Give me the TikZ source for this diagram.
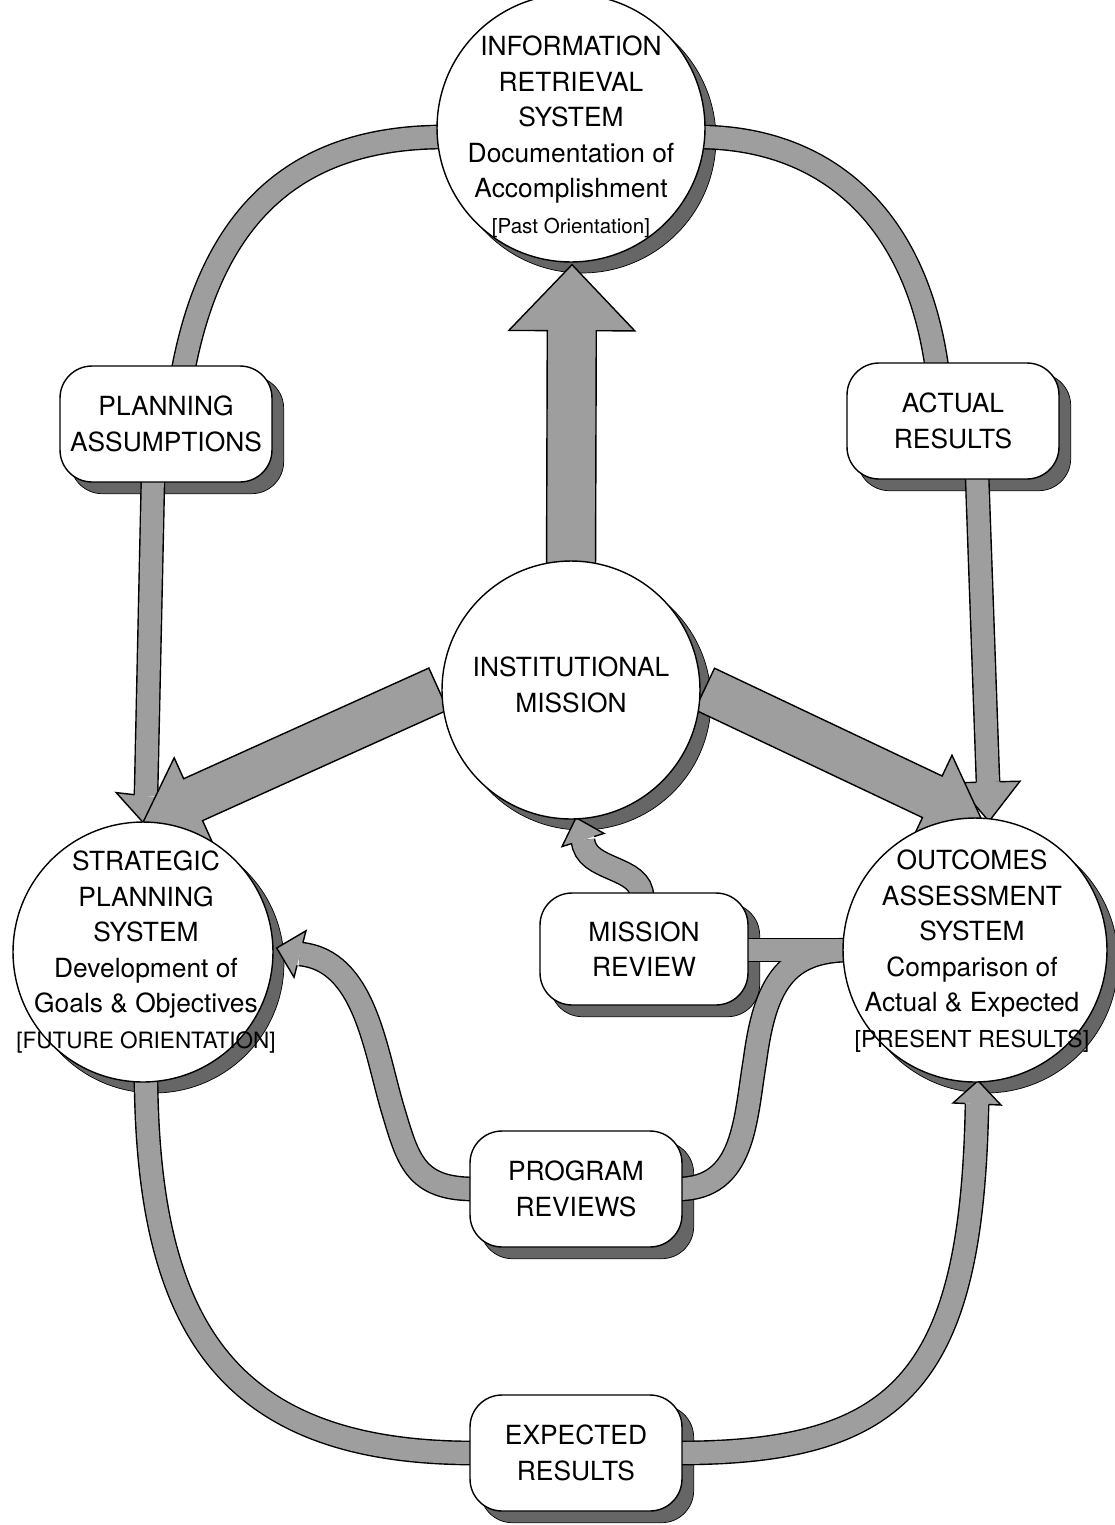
\documentclass[tikz,border=0pt]{standalone}
\usepackage{fontspec}
\setmainfont{TeX Gyre Heros}
\usetikzlibrary{calc}
\pgfdeclarelayer{shadowlayer}
\pgfdeclarelayer{bandout}
\pgfdeclarelayer{bandin}
\pgfdeclarelayer{bigarrows}
\pgfsetlayers{shadowlayer,bandout,bandin,bigarrows,main}
\definecolor{bandgray}{gray}{0.62}
\definecolor{shadegray}{gray}{0.40}
\tikzset{
  circ/.style={circle, draw=black, fill=white, line width=0.8pt, inner sep=0pt},
  rbox/.style={draw=black, fill=white, rounded corners=0.64cm, minimum width=4.24cm, minimum height=2.32cm, line width=0.8pt, inner sep=0pt, align=center, font=\fontsize{15}{20.2}\selectfont},
  maintext/.style={align=center, inner sep=0pt, font=\fontsize{15}{20.2}\selectfont},
  bandouter/.style={draw=black, line width=14.1pt},
  bandinner/.style={draw=bandgray, line width=12.5pt},
  headline/.style={draw=black, line width=0.8pt, line join=miter},
  bigarrow/.style={draw=black, fill=bandgray, line width=0.8pt, line join=miter},
  shadowfill/.style={fill=shadegray, draw=black, line width=0.4pt},
}
\newcommand{\bandpath}[1]{%
  \begin{pgfonlayer}{bandout}\draw[bandouter] #1;\end{pgfonlayer}%
  \begin{pgfonlayer}{bandin}\draw[bandinner] #1;\end{pgfonlayer}}
\newcommand{\thinhead}[3]{%
  \begin{pgfonlayer}{bandin}
  \fill[bandgray] ($(#1)!#3!90:(#2)$) -- (#2) -- ($(#1)!#3!-90:(#2)$) -- cycle;
  \draw[headline] ($(#1)!6.65pt!90:(#2)$) -- ($(#1)!#3!90:(#2)$) -- (#2) -- ($(#1)!#3!-90:(#2)$) -- ($(#1)!6.65pt!-90:(#2)$);
  \end{pgfonlayer}}
\newcommand{\bigarr}[5]{%
  \begin{pgfonlayer}{bigarrows}
  \coordinate (ba) at ($(#2)!#3!(#1)$);
  \filldraw[bigarrow] ($(#1)!#5!90:(#2)$) -- ($(ba)!#5!90:(#2)$) -- ($(ba)!#4!90:(#2)$) -- (#2) -- ($(ba)!#4!-90:(#2)$) -- ($(ba)!#5!-90:(#2)$) -- ($(#1)!#5!-90:(#2)$) -- cycle;
  \end{pgfonlayer}}
\begin{document}
\begin{tikzpicture}[x=0.02cm, y=-0.02cm]
\useasboundingbox (0,0) rectangle (1115,1525);
% nodes
\node[circ, minimum size=5.36cm] (irs) at (571,128) {};
\node[circ, minimum size=5.16cm] (im) at (571,690) {};
\node[circ, minimum size=5.2cm] (sps) at (143,952) {};
\node[circ, minimum size=5.28cm] (oas) at (975,950) {};
\node[rbox] (pa) at (166,424) {PLANNING\\ASSUMPTIONS};
\node[rbox] (ar) at (953,421) {ACTUAL\\RESULTS};
\node[rbox, minimum width=4.16cm, minimum height=2.24cm] (mr) at (644,949) {MISSION\\REVIEW};
\node[rbox] (pr) at (576,1189) {PROGRAM\\REVIEWS};
\node[rbox] (er) at (576,1453) {EXPECTED\\RESULTS};
\node[maintext] (irstext) at (571,137) {INFORMATION\\RETRIEVAL\\SYSTEM\\Documentation of\\Accomplishment\\{\fontsize{11.7}{20.2}\selectfont [Past Orientation]}};
\node[maintext] (imtext) at (571,685) {INSTITUTIONAL\\MISSION};
\node[maintext] (spstext) at (146,952) {STRATEGIC\\PLANNING\\SYSTEM\\Development of\\Goals \& Objectives\\{\fontsize{12.8}{20.2}\selectfont [FUTURE ORIENTATION]}};
\node[maintext] (oastext) at (972,951) {OUTCOMES\\ASSESSMENT\\SYSTEM\\Comparison of\\Actual \& Expected\\{\fontsize{13.3}{20.2}\selectfont [PRESENT RESULTS]}};
% shadows
\begin{pgfonlayer}{shadowlayer}
\fill[white] (0,0) rectangle (1115,1525);
\foreach \c/\rad in {irs/2.68cm, im/2.58cm, sps/2.6cm, oas/2.64cm}
  \filldraw[shadowfill] ($(\c.center)+(11,11)$) circle (\rad);
\foreach \b in {pa,ar,mr,pr,er}
  \filldraw[shadowfill, rounded corners=0.64cm] ($(\b.south west)+(11,11)$) rectangle ($(\b.north east)+(11,11)$);
\end{pgfonlayer}
% coordinates
\coordinate (cB) at (146,796);
\coordinate (cT) at ($(sps.north)+(0,1)$);
\coordinate (dB) at (988,782);
\coordinate (dT) at ($(oas.north)+(14,4)$);
\coordinate (hB) at (583,840);
\coordinate (hT) at ($(im.south)+(5,-2)$);
\coordinate (iB) at (300,954);
\coordinate (iT) at ($(sps.east)+(3,-4)$);
\coordinate (lB) at (977,1104);
\coordinate (lT) at ($(oas.south)+(3,-2)$);
% bands
\bandpath{($(pa.north)+(17,6)$) .. controls (215,200) and (310,137) .. ($(irs.west)+(8,9)$)}
\bandpath{($(irs.east)+(-8,9)$) .. controls (820,137) and (915,210) .. ($(ar.north)+(-16,6)$)}
\bandpath{($(pa.south)+(-13,-6)$) -- (cB)}
\bandpath{($(ar.south)+(24,-6)$) -- (dB)}
\bandpath{($(mr.north)+(-2,5)$) .. controls (642,865) and (585,872) .. (hB)}
\bandpath{($(pr.west)+(5,0)$) .. controls (415,1189) and (408,1160) .. (393,1110) .. controls (375,1050) and (365,960) .. (iB)}
\bandpath{($(pr.east)+(-5,0)$) .. controls (745,1189) and (745,1120) .. (755,1060) .. controls (765,985) and (785,950) .. ($(oas.west)+(8,0)$)}
\bandpath{($(mr.east)+(-5,1)$) -- ($(oas.west)+(8,0)$)}
\bandpath{($(sps.south)+(3,-5)$) .. controls (148,1330) and (230,1453) .. ($(er.west)+(5,0)$)}
\bandpath{($(er.east)+(-5,0)$) .. controls (900,1453) and (972,1380) .. (lB)}
% thin heads
\thinhead{cB}{cT}{0.6cm}
\thinhead{dB}{dT}{0.64cm}
\thinhead{hB}{hT}{0.44cm}
\thinhead{iB}{iT}{0.48cm}
\thinhead{lB}{lT}{0.48cm}
% big arrows
\coordinate (eS) at ($(im.west)+(-3,-1)$);
\coordinate (eT) at ($(sps.north)+(0,1)$);
\bigarr{eS}{eT}{1.1cm}{0.92cm}{0.46cm}
\coordinate (fS) at ($(im.east)+(4,-1)$);
\coordinate (fT) at ($(oas.north)+(7,3)$);
\bigarr{fS}{fT}{1.1cm}{0.92cm}{0.46cm}
\coordinate (gS) at ($(im.north)+(0,15)$);
\coordinate (gT) at ($(irs.south)+(1,2)$);
\bigarr{gS}{gT}{1.32cm}{1.26cm}{0.49cm}
\end{tikzpicture}
\end{document}
